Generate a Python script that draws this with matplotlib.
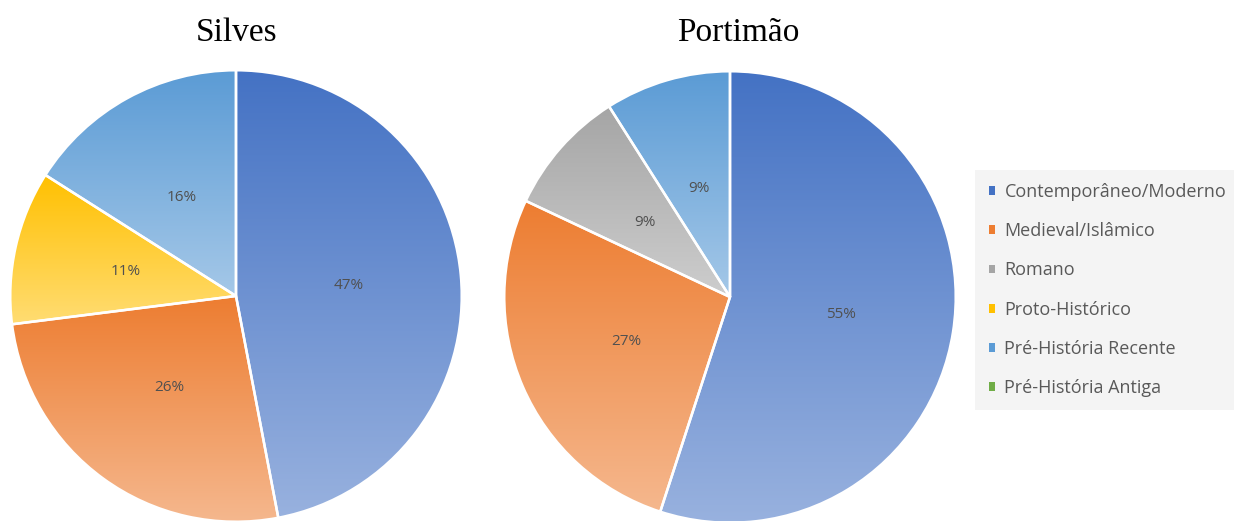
import numpy as np
import matplotlib.pyplot as plt
from matplotlib.colors import to_rgb
from matplotlib.patches import Patch

categories = ['Contemporâneo/Moderno', 'Medieval/Islâmico', 'Romano',
              'Proto-Histórico', 'Pré-História Recente', 'Pré-História Antiga']
colors = ['#4472C4', '#ED7D31', '#A5A5A5', '#FFC000', '#5B9BD5', '#70AD47']

silves = [47, 26, 0, 11, 16, 0]
portimao = [55, 27, 9, 0, 9, 0]
titles = ['Silves', 'Portimão']


def gradient_pie(ax, values):
    vals = [v for v in values if v > 0]
    cols = [c for v, c in zip(values, colors) if v > 0]
    wedges, texts, autotexts = ax.pie(
        vals, colors=cols, startangle=90, counterclock=False,
        autopct='%.0f%%', pctdistance=0.5, radius=1,
        wedgeprops=dict(edgecolor='white', linewidth=1.8),
        textprops=dict(color='#505050', fontsize=11, family='Open Sans'))
    for w, c in zip(wedges, cols):
        ext = w.get_path().get_extents()
        top = np.array(to_rgb(c))
        bot = top + (1 - top) * 0.45
        t = np.linspace(0, 1, 256)[:, None]
        grad = top[None, :] * (1 - t) + bot[None, :] * t
        img = ax.imshow(grad[:, None, :], extent=[ext.x0, ext.x1, ext.y0, ext.y1],
                        origin='upper', aspect='auto', zorder=0.5, interpolation='bilinear')
        img.set_clip_path(w)
        w.set_facecolor('none')
        w.set_zorder(1)
    for t in autotexts:
        t.set_zorder(3)
    ax.set_xlim(-1.01, 1.01)
    ax.set_ylim(-1.01, 1.01)
    ax.set_aspect('equal')
    ax.axis('off')


fig = plt.figure(figsize=(12.34, 5.21), dpi=100)
W, H = 1234, 521
ax1 = fig.add_axes([8 / W, (H - 524) / H, 456 / W, 456 / H])
ax2 = fig.add_axes([502 / W, (H - 525) / H, 456 / W, 456 / H])

for ax, vals in zip([ax1, ax2], [silves, portimao]):
    gradient_pie(ax, vals)

fig.text(237 / W, 1 - 33 / H, titles[0], ha='center', va='center',
         fontsize=24, family='Liberation Serif')
fig.text(738 / W, 1 - 33 / H, titles[1], ha='center', va='center',
         fontsize=24, family='Liberation Serif')

handles = [Patch(facecolor=c, edgecolor='none') for c in colors]
leg = fig.legend(handles, categories, loc='center left',
                 bbox_to_anchor=(975 / W, 1 - 290 / H),
                 frameon=True, fancybox=False, facecolor='#f2f2f2', edgecolor='none',
                 handlelength=0.38, handleheight=0.38, handletextpad=0.5,
                 labelspacing=1.17, borderpad=0.75, borderaxespad=0,
                 prop=dict(family='Open Sans', size=13))
for t in leg.get_texts():
    t.set_color('#595959')

fig.savefig('out.png', dpi=100)
